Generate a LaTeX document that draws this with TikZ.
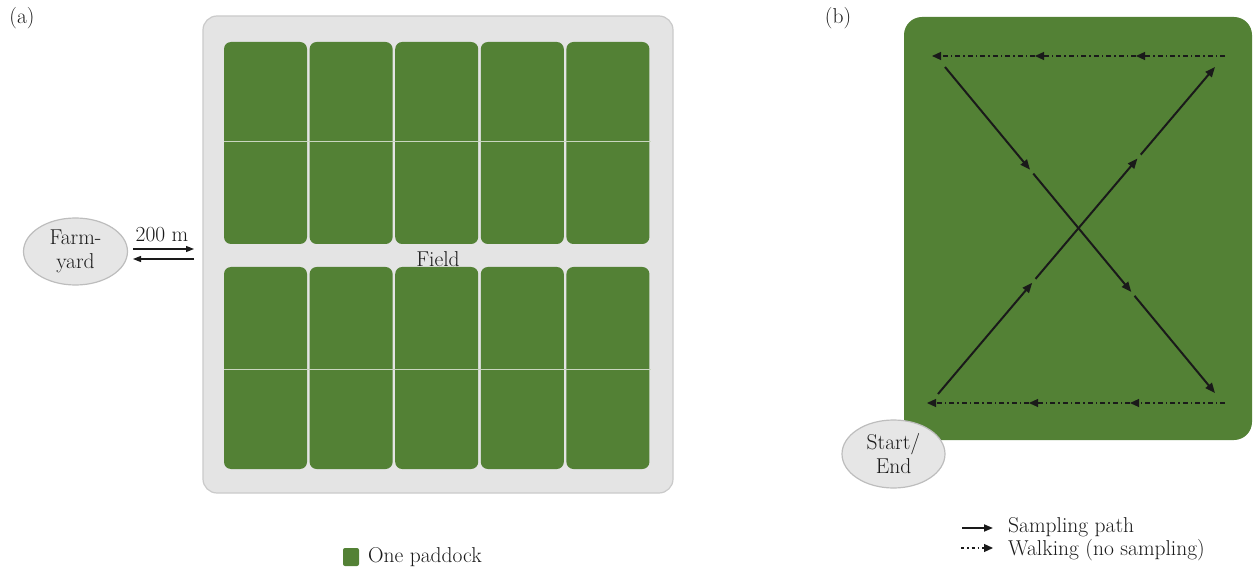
\documentclass[tikz,border=0pt]{standalone}
\usetikzlibrary{arrows.meta,shapes.geometric,calc}
\definecolor{paddock}{HTML}{538135}
\definecolor{fieldgrey}{HTML}{E4E4E4}
\definecolor{fieldedge}{HTML}{CACACA}
\definecolor{ovalgrey}{HTML}{E6E6E6}
\definecolor{ovaledge}{HTML}{BDBDBD}
\definecolor{splitline}{HTML}{C9D6BF}
\definecolor{ink}{HTML}{1A1A1A}
\tikzset{
  lbl/.style={font=\fontsize{21.5}{24}\selectfont, text=ink, inner sep=0pt},
  oval/.style={ellipse, draw=ovaledge, fill=ovalgrey, line width=1.2pt,
    minimum width=#1, align=center, inner sep=0pt,
    font=\fontsize{21.5}{24}\selectfont, text=ink},
  plot/.style={fill=paddock, rounded corners=7pt},
  thinarrow/.style={draw=ink, line width=1.3pt, -{Triangle[length=8pt,width=6pt]}},
  sample/.style={draw=ink, line width=2pt, -{Triangle[length=10pt,width=8pt]}},
  walk/.style={draw=ink, line width=1.2pt, dash pattern=on 5pt off 3pt on 1.5pt off 3pt,
    -{Triangle[length=9pt,width=8pt]}},
}
\begin{document}
\begin{tikzpicture}[x=1pt,y=-1pt]
\useasboundingbox (0,0) rectangle (1254,572);

% ---------- panel (a): field with paddocks ----------
\node[lbl] (taga) at (22,18) {(a)};
\fill[fieldgrey, draw=fieldedge, line width=1.2pt, rounded corners=14pt] (203,16) rectangle (673,493);
\foreach \i in {0,...,4} {
  \pgfmathsetmacro\xl{224+\i*85.6}
  \fill[plot] (\xl,42) rectangle ++(83,202);
  \fill[plot] (\xl,267) rectangle ++(83,202);
}
\draw[splitline, line width=0.9pt] (224,141) -- (651,141);
\draw[splitline, line width=0.9pt] (224,369) -- (651,369);
\node[lbl] (fieldlbl) at (438,259) {Field};

% farmyard and the trip to the field
\node[oval=104pt, minimum height=67pt] (farm) at (75.5,251.5) {Farm-\\yard};
\coordinate (goA) at (133,249);
\coordinate (goB) at (194,249);
\coordinate (backA) at (194,259);
\coordinate (backB) at (133,259);
\draw[thinarrow] (goA) -- (goB);
\draw[thinarrow] (backA) -- (backB);
\node[lbl] (dist) at (162,235) {200 m};

% legend
\fill[paddock, rounded corners=2pt] (343,548) rectangle (359,566);
\node[lbl, anchor=west] (legpad) at (368,557) {One paddock};

% ---------- panel (b): sampling route inside one paddock ----------
\node[lbl] (tagb) at (838,18) {(b)};
\fill[paddock, rounded corners=18pt] (904,17) rectangle (1252,440);

% walking legs (no sampling), right to left
\coordinate (t0) at (1225,56);
\coordinate (t1) at (1136,56);
\coordinate (t2) at (1035,56);
\coordinate (t3) at (932,56);
\draw[walk] (t0) -- (t1);
\draw[walk] (t1) -- (t2);
\draw[walk] (t2) -- (t3);
\coordinate (b0) at (1225,403);
\coordinate (b1) at (1130,403);
\coordinate (b2) at (1029,403);
\coordinate (b3) at (927,403);
\draw[walk] (b0) -- (b1);
\draw[walk] (b1) -- (b2);
\draw[walk] (b2) -- (b3);

% sampling diagonals
\coordinate (d1s) at (945,67);
\coordinate (d1e) at (1215,393);
\coordinate (d2s) at (938,394);
\coordinate (d2e) at (1215,67);
\draw[sample] (d1s) -- ($(d1s)!0.315!(d1e)$);
\draw[sample] ($(d1s)!0.327!(d1e)$) -- ($(d1s)!0.69!(d1e)$);
\draw[sample] ($(d1s)!0.702!(d1e)$) -- (d1e);
\draw[sample] (d2s) -- ($(d2s)!0.34!(d2e)$);
\draw[sample] ($(d2s)!0.352!(d2e)$) -- ($(d2s)!0.72!(d2e)$);
\draw[sample] ($(d2s)!0.732!(d2e)$) -- (d2e);

\node[oval=103pt, minimum height=68pt] (start) at (893.5,454) {Start/\\End};

% legend
\coordinate (ls0) at (962,528);
\coordinate (ls1) at (993,528);
\coordinate (lw0) at (961,548);
\coordinate (lw1) at (993,548);
\draw[sample, line width=1.8pt, -{Triangle[length=9pt,width=7pt]}] (ls0) -- (ls1);
\draw[walk, dash pattern=on 3pt off 3pt on 1.5pt off 3pt] (lw0) -- (lw1);
\node[lbl, anchor=west] (legsample) at (1008,527) {Sampling path};
\node[lbl, anchor=west] (legwalk) at (1008,550) {Walking (no sampling)};
\end{tikzpicture}
\end{document}
